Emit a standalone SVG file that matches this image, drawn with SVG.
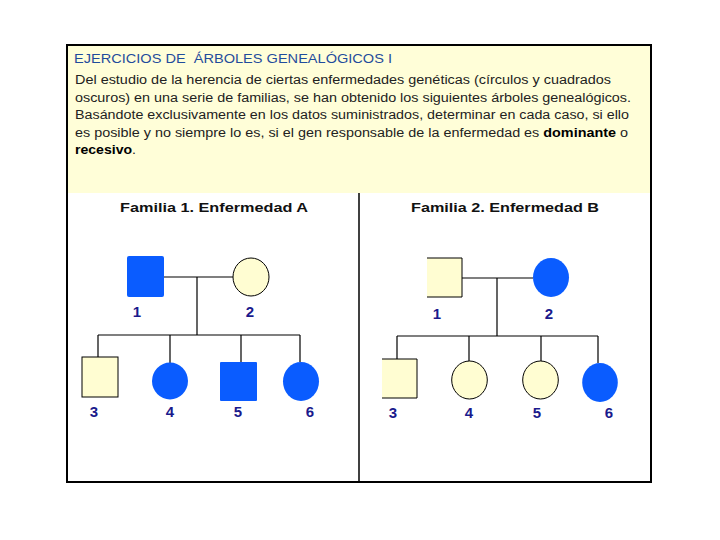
<svg xmlns="http://www.w3.org/2000/svg" width="720" height="540" viewBox="0 0 720 540">
<style>
.ln{stroke:#000;stroke-width:1.2;fill:none}
.aff{fill:#0a5cff}
.un{fill:#fffdd2;stroke:#000;stroke-width:1}
.body{font-family:"Liberation Sans",Arial,sans-serif;font-size:12.5px;fill:#222}
.title{font-family:"Liberation Sans",Arial,sans-serif;font-size:13px;fill:#1f4c9c}
.head{font-family:"Liberation Sans",Arial,sans-serif;font-size:13.5px;font-weight:bold;fill:#111}
.num{font-family:"Liberation Sans",Arial,sans-serif;font-size:15px;font-weight:bold;fill:#1a1a8c;text-anchor:middle}
</style>
<rect x="0" y="0" width="720" height="540" fill="#fff"/>
<rect x="67" y="45" width="584" height="148" fill="#fffed8"/>
<rect x="67" y="45" width="584" height="437" fill="none" stroke="#000" stroke-width="2"/>
<line x1="359" y1="193" x2="359" y2="482" stroke="#000" stroke-width="1.5"/>
<g id="header">
<text class="title" x="74" y="63" textLength="318" lengthAdjust="spacingAndGlyphs" xml:space="preserve">EJERCICIOS DE  ÁRBOLES GENEALÓGICOS I</text>
<text class="body" x="75" y="84" textLength="536" lengthAdjust="spacingAndGlyphs">Del estudio de la herencia de ciertas enfermedades genéticas (círculos y cuadrados</text>
<text class="body" x="75" y="102" textLength="556" lengthAdjust="spacingAndGlyphs">oscuros) en una serie de familias, se han obtenido los siguientes árboles genealógicos.</text>
<text class="body" x="75" y="119" textLength="554" lengthAdjust="spacingAndGlyphs">Basándote exclusivamente en los datos suministrados, determinar en cada caso, si ello</text>
<text class="body" x="75" y="137" textLength="553" lengthAdjust="spacingAndGlyphs">es posible y no siempre lo es, si el gen responsable de la enfermedad es <tspan font-weight="bold" fill="#000">dominante</tspan> o</text>
<text class="body" x="75" y="154" textLength="61" lengthAdjust="spacingAndGlyphs"><tspan font-weight="bold" fill="#000">recesivo</tspan>.</text>
</g>
<g id="connectors">
<path class="ln" d="M164,277 H233 M197,277 V335 M98,335 H300 M98,335 V357 M170,335 V363 M241,335 V362 M300,335 V362"/>
<path class="ln" d="M462,278 H533 M497,278 V336 M397,336 H598 M397,336 V359 M469,336 V361 M541,336 V361 M598,336 V363"/>
</g>
<g id="family1">
<text class="head" x="120" y="212" textLength="188" lengthAdjust="spacingAndGlyphs">Familia 1. Enfermedad A</text>
<g id="f1-1"><rect class="aff" x="127" y="256" width="37" height="41" rx="2"/><text class="num" x="137" y="317">1</text></g>
<g id="f1-2"><ellipse class="un" cx="251" cy="277" rx="18" ry="19"/><text class="num" x="250" y="317">2</text></g>
<g id="f1-3"><rect class="un" x="82" y="357" width="36" height="40"/><text class="num" x="94" y="417">3</text></g>
<g id="f1-4"><ellipse class="aff" cx="170" cy="381" rx="18" ry="18.5"/><text class="num" x="170" y="417">4</text></g>
<g id="f1-5"><rect class="aff" x="220" y="362" width="37" height="39" rx="1"/><text class="num" x="238" y="417">5</text></g>
<g id="f1-6"><ellipse class="aff" cx="301" cy="381.5" rx="18" ry="19.5"/><text class="num" x="310" y="417">6</text></g>
</g>
<g id="family2">
<text class="head" x="411" y="212" textLength="188" lengthAdjust="spacingAndGlyphs">Familia 2. Enfermedad B</text>
<g id="f2-1"><rect x="427" y="258" width="35" height="39" fill="#fffdd2"/><path d="M427,258 H462 V297 H427" fill="none" stroke="#000" stroke-width="1"/><text class="num" x="437" y="319">1</text></g>
<g id="f2-2"><ellipse class="aff" cx="551" cy="277.5" rx="18" ry="19.5"/><text class="num" x="549" y="319">2</text></g>
<g id="f2-3"><rect x="382" y="359" width="35" height="39" fill="#fffdd2"/><path d="M382,359 H417 V398 H382" fill="none" stroke="#000" stroke-width="1"/><text class="num" x="393" y="418">3</text></g>
<g id="f2-4"><ellipse class="un" cx="469.5" cy="380" rx="17.8" ry="19"/><text class="num" x="469" y="418">4</text></g>
<g id="f2-5"><ellipse class="un" cx="540.5" cy="380" rx="17.8" ry="19"/><text class="num" x="537" y="418">5</text></g>
<g id="f2-6"><ellipse class="aff" cx="600" cy="382.5" rx="17.8" ry="19.5"/><text class="num" x="609" y="418">6</text></g>
</g>
</svg>
